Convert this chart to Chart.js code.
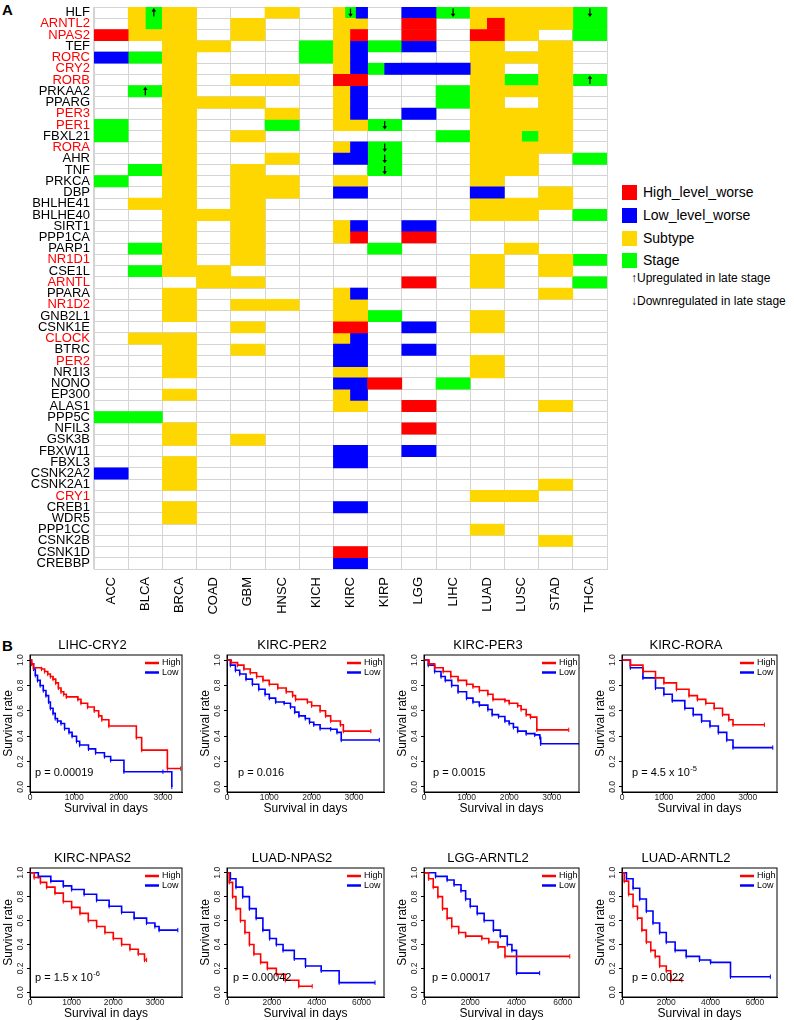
<!DOCTYPE html>
<html>
<head>
<meta charset="utf-8">
<script src="https://cdn.jsdelivr.net/npm/chart.js@4.4.1/dist/chart.umd.min.js"></script>
<style>
  body { margin: 0; background: #fff; font-family: "Liberation Sans", Arial, sans-serif; }
  #page { position: relative; width: 794px; height: 1020px; overflow: hidden; }
  canvas { position: absolute; }
  .tag { position: absolute; left: 2px; font-weight: bold; font-size: 15px; }
  .lg { position: absolute; left: 622px; font-size: 14px; line-height: 15px; white-space: nowrap; }
  .lg span { display: inline-block; width: 15px; height: 15px; vertical-align: top; margin-right: 6px; }
  .ar { position: absolute; left: 631px; font-size: 12px; white-space: nowrap; }
</style>
</head>
<body>
<div id="page">
  <div class="tag" style="top:1px">A</div>
  <div class="tag" style="top:637px">B</div>

  <canvas id="heat" width="610" height="620" style="left:0;top:0"></canvas>

  <div class="lg" style="top:185px"><span style="background:#FF0000"></span>High_level_worse</div>
  <div class="lg" style="top:208px"><span style="background:#0000FF"></span>Low_level_worse</div>
  <div class="lg" style="top:231px"><span style="background:#FFD700"></span>Subtype</div>
  <div class="lg" style="top:253px"><span style="background:#00FF00"></span>Stage</div>
  <div class="ar" style="top:271px">↑Upregulated in late stage</div>
  <div class="ar" style="top:294px">↓Downregulated in late stage</div>

  <canvas id="km1" width="187" height="178" style="left:0;top:638px"></canvas>
  <canvas id="km2" width="192" height="178" style="left:197px;top:638px"></canvas>
  <canvas id="km3" width="190" height="178" style="left:394px;top:638px"></canvas>
  <canvas id="km4" width="190" height="178" style="left:592px;top:638px"></canvas>
  <canvas id="km5" width="187" height="170" style="left:0;top:851px"></canvas>
  <canvas id="km6" width="192" height="170" style="left:197px;top:851px"></canvas>
  <canvas id="km7" width="190" height="170" style="left:394px;top:851px"></canvas>
  <canvas id="km8" width="190" height="170" style="left:592px;top:851px"></canvas>
</div>

<script>
// ---- panel A: genes x cancers ----
const genes = ['HLF','ARNTL2','NPAS2','TEF','RORC','CRY2','RORB','PRKAA2','PPARG','PER3','PER1','FBXL21','RORA','AHR','TNF',
  'PRKCA','DBP','BHLHE41','BHLHE40','SIRT1','PPP1CA','PARP1','NR1D1','CSE1L','ARNTL','PPARA','NR1D2','GNB2L1','CSNK1E',
  'CLOCK','BTRC','PER2','NR1I3','NONO','EP300','ALAS1','PPP5C','NFIL3','GSK3B','FBXW11','FBXL3','CSNK2A2','CSNK2A1',
  'CRY1','CREB1','WDR5','PPP1CC','CSNK2B','CSNK1D','CREBBP'];
const redGenes = ['ARNTL2','NPAS2','RORC','CRY2','RORB','PER3','PER1','RORA','NR1D1','ARNTL','NR1D2','CLOCK','PER2','CRY1'];
const cancers = ['ACC','BLCA','BRCA','COAD','GBM','HNSC','KICH','KIRC','KIRP','LGG','LIHC','LUAD','LUSC','STAD','THCA'];

// cell codes, one letter per equal slice of the cell:
// R high_level_worse, B low_level_worse, Y subtype, G stage, U stage + up arrow, D stage + down arrow
const ACC  = {NPAS2:'R', RORC:'B', PER1:'G', FBXL21:'G', PRKCA:'G', PPP5C:'G', CSNK2A2:'B'};
const BLCA = {HLF:'YU', ARNTL2:'YG', NPAS2:'Y', RORC:'G', PRKAA2:'U', TNF:'G', BHLHE41:'Y', PARP1:'G', CSE1L:'G', CLOCK:'Y', PPP5C:'G'};
const BRCA = {HLF:'Y', ARNTL2:'Y', NPAS2:'Y', TEF:'Y', RORC:'Y', CRY2:'Y', RORB:'Y', PRKAA2:'Y', PPARG:'Y', PER3:'Y', PER1:'Y',
  FBXL21:'Y', RORA:'Y', AHR:'Y', TNF:'Y', PRKCA:'Y', DBP:'Y', BHLHE41:'Y', BHLHE40:'Y', SIRT1:'Y', PPP1CA:'Y', PARP1:'Y',
  NR1D1:'Y', CSE1L:'Y', PPARA:'Y', NR1D2:'Y', GNB2L1:'Y', CLOCK:'Y', BTRC:'Y', PER2:'Y', NR1I3:'Y', EP300:'Y', NFIL3:'Y',
  GSK3B:'Y', FBXL3:'Y', CSNK2A2:'Y', CSNK2A1:'Y', CREB1:'Y', WDR5:'Y'};
const COAD = {TEF:'Y', PPARG:'Y', BHLHE40:'Y', CSE1L:'Y', ARNTL:'Y'};
const GBM  = {ARNTL2:'Y', NPAS2:'Y', RORB:'Y', PPARG:'Y', FBXL21:'Y', TNF:'Y', PRKCA:'Y', DBP:'Y', BHLHE41:'Y', BHLHE40:'Y',
  SIRT1:'Y', PPP1CA:'Y', PARP1:'Y', NR1D1:'Y', ARNTL:'Y', NR1D2:'Y', CSNK1E:'Y', BTRC:'Y', GSK3B:'Y'};
const HNSC = {HLF:'Y', RORB:'Y', PER3:'Y', PER1:'G', AHR:'Y', PRKCA:'Y', DBP:'Y', NR1D2:'Y'};
const KICH = {TEF:'G', RORC:'G'};
const KIRC = {HLF:'YDB', ARNTL2:'Y', NPAS2:'YR', TEF:'YB', RORC:'YB', CRY2:'YB', RORB:'R', PRKAA2:'YB', PPARG:'YB', PER3:'YB',
  PER1:'Y', RORA:'YB', AHR:'B', PRKCA:'Y', DBP:'B', SIRT1:'YB', PPP1CA:'YR', PPARA:'YB', NR1D2:'Y', GNB2L1:'Y', CSNK1E:'R',
  CLOCK:'YB', BTRC:'B', PER2:'B', NR1I3:'Y', NONO:'B', EP300:'YB', ALAS1:'Y', FBXW11:'B', FBXL3:'B', CREB1:'B', CSNK1D:'R', CREBBP:'B'};
const KIRP = {TEF:'G', CRY2:'GB', PER1:'D', RORA:'D', AHR:'D', TNF:'D', PARP1:'G', GNB2L1:'G', NONO:'R'};
const LGG  = {HLF:'B', ARNTL2:'R', NPAS2:'R', TEF:'B', CRY2:'B', PER3:'B', SIRT1:'B', PPP1CA:'R', ARNTL:'R', CSNK1E:'B', BTRC:'B',
  ALAS1:'R', NFIL3:'R', FBXW11:'B'};
const LIHC = {HLF:'D', CRY2:'B', PRKAA2:'G', PPARG:'G', FBXL21:'G', NONO:'G'};
const LUAD = {HLF:'Y', ARNTL2:'YR', NPAS2:'R', TEF:'Y', RORC:'Y', CRY2:'Y', RORB:'Y', PRKAA2:'Y', PPARG:'Y', PER3:'Y', PER1:'Y',
  FBXL21:'Y', RORA:'Y', AHR:'Y', TNF:'Y', PRKCA:'Y', DBP:'B', BHLHE41:'Y', BHLHE40:'Y', NR1D1:'Y', CSE1L:'Y', ARNTL:'Y',
  GNB2L1:'Y', CSNK1E:'Y', PER2:'Y', NR1I3:'Y', CRY1:'Y', PPP1CC:'Y'};
const LUSC = {HLF:'Y', ARNTL2:'Y', NPAS2:'Y', RORC:'Y', RORB:'G', PRKAA2:'Y', PER3:'Y', PER1:'Y', FBXL21:'YG', RORA:'Y', AHR:'Y',
  TNF:'Y', BHLHE41:'Y', BHLHE40:'Y', PARP1:'Y', CRY1:'Y'};
const STAD = {HLF:'Y', ARNTL2:'Y', TEF:'Y', RORC:'Y', CRY2:'Y', RORB:'Y', PRKAA2:'Y', PPARG:'Y', PER3:'Y', PER1:'Y', FBXL21:'Y',
  RORA:'Y', DBP:'Y', BHLHE41:'Y', NR1D1:'Y', CSE1L:'Y', PPARA:'Y', ALAS1:'Y', CSNK2A1:'Y', CSNK2B:'Y'};
const THCA = {HLF:'D', ARNTL2:'G', NPAS2:'G', RORB:'U', AHR:'G', BHLHE40:'G', NR1D1:'G', ARNTL:'G'};
const columns = [ACC, BLCA, BRCA, COAD, GBM, HNSC, KICH, KIRC, KIRP, LGG, LIHC, LUAD, LUSC, STAD, THCA];

// ---- panel B: Kaplan-Meier curves, [days, survival] ----
const lihcCry2High = [[0,1],[40,0.97],[80,0.94],[260,0.93],[330,0.91],[400,0.89],[460,0.87],[520,0.85],[580,0.82],[640,0.78],
  [700,0.75],[760,0.73],[820,0.71],[1080,0.69],[1150,0.66],[1300,0.63],[1450,0.6],[1550,0.56],[1620,0.53],[1780,0.48],
  [2400,0.39],[2520,0.29],[3100,0.145],[3400,0.145]];
const lihcCry2Low = [[0,1],[30,0.97],[80,0.93],[120,0.88],[170,0.84],[230,0.8],[300,0.76],[360,0.72],[420,0.67],[460,0.62],
  [520,0.58],[570,0.54],[620,0.52],[700,0.5],[780,0.46],[880,0.43],[950,0.4],[1050,0.36],[1120,0.33],[1320,0.3],[1480,0.27],
  [1680,0.24],[1820,0.21],[2120,0.12],[3000,0.12],[3200,0]];
const kircPer2High = [[0,1],[100,0.98],[250,0.96],[400,0.93],[550,0.9],[700,0.87],[850,0.84],[1000,0.81],[1200,0.78],[1400,0.75],
  [1550,0.72],[1620,0.69],[1900,0.67],[2000,0.64],[2200,0.6],[2330,0.56],[2450,0.52],[2680,0.49],[2750,0.44],[3400,0.44]];
const kircPer2Low = [[0,1],[80,0.96],[200,0.92],[300,0.89],[450,0.85],[600,0.81],[750,0.77],[900,0.73],[1000,0.7],[1150,0.67],
  [1350,0.66],[1500,0.63],[1600,0.59],[1700,0.56],[1850,0.54],[1950,0.51],[2050,0.49],[2200,0.46],[2450,0.455],[2600,0.43],
  [2700,0.37],[3600,0.37]];
const kircPer3High = [[0,1],[120,0.97],[250,0.94],[450,0.91],[630,0.87],[800,0.84],[1000,0.81],[1150,0.79],[1300,0.76],
  [1500,0.73],[1620,0.69],[1900,0.68],[2000,0.66],[2200,0.64],[2280,0.61],[2400,0.57],[2500,0.55],[2650,0.45],[3400,0.45]];
const kircPer3Low = [[0,1],[100,0.96],[250,0.91],[400,0.87],[500,0.84],[650,0.8],[800,0.75],[1000,0.7],[1150,0.67],[1300,0.645],
  [1500,0.61],[1600,0.57],[1750,0.555],[1900,0.52],[2000,0.5],[2100,0.47],[2200,0.44],[2400,0.42],[2600,0.41],[2720,0.39],
  [2740,0.34],[3650,0.34]];
const kircRoraHigh = [[0,1],[200,0.96],[500,0.91],[800,0.86],[1000,0.82],[1300,0.77],[1600,0.72],[1800,0.69],[2000,0.66],
  [2200,0.62],[2400,0.57],[2550,0.53],[2650,0.49],[3400,0.49]];
const kircRoraLow = [[0,1],[200,0.94],[500,0.86],[800,0.78],[1000,0.73],[1200,0.68],[1500,0.62],[1700,0.57],[1900,0.52],
  [2100,0.48],[2300,0.43],[2500,0.37],[2650,0.31],[3600,0.31]];
const kircNpas2High = [[0,1],[100,0.96],[250,0.92],[400,0.88],[600,0.83],[800,0.76],[1000,0.71],[1200,0.66],[1400,0.6],
  [1600,0.55],[1800,0.5],[2000,0.45],[2200,0.4],[2400,0.36],[2600,0.32],[2750,0.27],[2800,0.27]];
const kircNpas2Low = [[0,1],[200,0.97],[500,0.93],[800,0.89],[1000,0.86],[1300,0.82],[1600,0.77],[1900,0.72],[2200,0.67],
  [2500,0.62],[2800,0.58],[3000,0.55],[3100,0.52],[3550,0.52]];
const luadNpas2High = [[0,1],[100,0.92],[250,0.8],[400,0.7],[600,0.6],[800,0.5],[1000,0.4],[1200,0.32],[1500,0.25],[1800,0.2],
  [2200,0.15],[2600,0.1],[3200,0.05],[3800,0.05]];
const luadNpas2Low = [[0,1],[150,0.95],[400,0.88],[700,0.8],[1000,0.7],[1300,0.62],[1600,0.52],[1900,0.45],[2200,0.4],
  [2500,0.35],[3000,0.28],[3500,0.22],[4200,0.18],[5000,0.08],[6600,0.08]];
const lggArntl2High = [[0,1],[200,0.95],[400,0.88],[600,0.8],[800,0.7],[1000,0.62],[1200,0.55],[1500,0.5],[1800,0.47],
  [2500,0.45],[2800,0.42],[3200,0.38],[3500,0.3],[6300,0.3]];
const lggArntl2Low = [[0,1],[500,0.97],[1000,0.94],[1300,0.9],[1600,0.85],[1800,0.78],[2000,0.72],[2300,0.66],[2600,0.6],
  [3000,0.52],[3300,0.47],[3600,0.4],[3800,0.35],[4000,0.16],[5000,0.16]];
const luadArntl2High = [[0,1],[100,0.93],[300,0.82],[500,0.72],[700,0.62],[900,0.52],[1100,0.42],[1300,0.35],[1500,0.3],
  [1700,0.22],[2000,0.18],[2200,0.1],[2700,0.1]];
const luadArntl2Low = [[0,1],[200,0.95],[500,0.87],[800,0.78],[1100,0.68],[1400,0.58],[1700,0.5],[2000,0.42],[2400,0.35],
  [2900,0.3],[3500,0.27],[4000,0.25],[4900,0.13],[6700,0.13]];

const survTicks = [0, 0.2, 0.4, 0.6, 0.8, 1.0];
const dayTicksShort = [0, 1000, 2000, 3000];
const dayTicksLong = [0, 2000, 4000, 6000];

Chart.defaults.font.family = '"Liberation Sans", Arial, sans-serif';
Chart.defaults.color = '#000';

// ---------- heatmap ----------
const fills = { R: '#FF0000', B: '#0000FF', Y: '#FFD700', G: '#00FF00' };
const groups = { R: [], B: [], Y: [], G: [] };
const arrows = [];
columns.forEach((col, ci) => {
  Object.entries(col).forEach(([gene, code]) => {
    const n = code.length;
    [...code].forEach((c, k) => {
      const x0 = ci + k / n, x1 = ci + (k + 1) / n;
      const key = (c === 'U' || c === 'D') ? 'G' : c;
      groups[key].push({ x: [x0, x1], y: gene });
      if (c === 'U' || c === 'D') arrows.push({ x: (x0 + x1) / 2, y: gene, up: c === 'U' });
    });
  });
});

const arrowPlugin = {
  id: 'arrows',
  afterDraw(chart) {
    const { ctx, scales: { x, y } } = chart;
    ctx.save();
    ctx.strokeStyle = '#000';
    ctx.fillStyle = '#000';
    ctx.lineWidth = 1.2;
    arrows.forEach(a => {
      const px = x.getPixelForValue(a.x);
      const py = y.getPixelForValue(genes.indexOf(a.y));
      const d = a.up ? -1 : 1;
      ctx.beginPath();
      ctx.moveTo(px, py - 4 * d);
      ctx.lineTo(px, py + 2.5 * d);
      ctx.stroke();
      ctx.beginPath();
      ctx.moveTo(px, py + 4.5 * d);
      ctx.lineTo(px - 2.3, py + 1.2 * d);
      ctx.lineTo(px + 2.3, py + 1.2 * d);
      ctx.closePath();
      ctx.fill();
    });
    ctx.restore();
  }
};

// keep the plot box exactly where padding puts it
const noPad = s => { s.paddingTop = 0; s.paddingBottom = 0; s.paddingLeft = 0; s.paddingRight = 0; };

const gridGrey = '#d4d4d4';
new Chart(document.getElementById('heat'), {
  type: 'bar',
  data: {
    labels: genes,
    datasets: ['R', 'B', 'Y', 'G'].map(k => ({
      data: groups[k],
      backgroundColor: fills[k],
      borderWidth: 0,
      barPercentage: 1,
      categoryPercentage: 1,
      grouped: false
    }))
  },
  options: {
    indexAxis: 'y',
    responsive: false,
    animation: false,
    layout: { padding: { top: 7, right: 3, left: 0, bottom: 0 } },
    plugins: { legend: { display: false }, tooltip: { enabled: false } },
    scales: {
      x: {
        type: 'linear', min: 0, max: 15, z: 1,
        afterBuildTicks: s => { s.ticks = cancers.map((c, i) => ({ value: i + 0.5 })); },
        afterFit: s => { s.height = 51; noPad(s); },
        ticks: { autoSkip: false, minRotation: 90, maxRotation: 90, padding: 8, font: { size: 13 },
          callback: (v, i) => cancers[i] },
        grid: { offset: true, color: gridGrey, drawTicks: false },
        border: { color: gridGrey }
      },
      y: {
        type: 'category', z: 1,
        afterFit: s => { s.width = 94; noPad(s); },
        ticks: { autoSkip: false, padding: 4, font: { size: 13 },
          color: c => redGenes.includes(genes[c.index]) ? '#FF0000' : '#000' },
        grid: { offset: true, color: gridGrey, drawTicks: false },
        border: { color: gridGrey }
      }
    }
  },
  plugins: [arrowPlugin]
});

// ---------- survival plots ----------
const kmPlugin = {
  id: 'kmText',
  afterDraw(chart, args, opts) {
    const { ctx, chartArea: a } = chart;
    ctx.save();
    ctx.strokeStyle = '#000';
    ctx.lineWidth = 1;
    ctx.strokeRect(a.left, a.top, a.right - a.left, a.bottom - a.top);
    ctx.lineWidth = 2.5;
    ctx.font = '9px "Liberation Sans", Arial';
    ctx.textBaseline = 'middle';
    [['High', '#FF0000'], ['Low', '#0000FF']].forEach(([t, c], k) => {
      const yy = a.top + 8 + k * 9.5;
      ctx.strokeStyle = c;
      ctx.beginPath();
      ctx.moveTo(a.right - 37, yy);
      ctx.lineTo(a.right - 23, yy);
      ctx.stroke();
      ctx.fillStyle = '#000';
      ctx.fillText(t, a.right - 20, yy);
    });
    ctx.textBaseline = 'alphabetic';
    ctx.font = '11px "Liberation Sans", Arial';
    const px = a.left + opts.dx, py = a.bottom - 16;
    ctx.fillText(opts.p, px, py);
    if (opts.exp) {
      const w = ctx.measureText(opts.p).width;
      ctx.font = '7.5px "Liberation Sans", Arial';
      ctx.fillText(opts.exp, px + w + 0.5, py - 5);
    }
    ctx.restore();
  }
};

function curve(points, color) {
  return {
    data: points,
    borderColor: color,
    borderWidth: 1.6,
    stepped: true,
    fill: false,
    pointStyle: 'line',
    pointRotation: 90,
    pointRadius: 2.2,
    pointBorderWidth: 1,
    pointBorderColor: color
  };
}

function kmChart(id, title, high, low, xMax, dayTicks, p, exp, dx) {
  new Chart(document.getElementById(id), {
    type: 'line',
    data: { datasets: [curve(high, '#FF0000'), curve(low, '#0000FF')] },
    options: {
      responsive: false,
      animation: false,
      layout: { padding: { top: 0, right: 2, left: 0, bottom: 0 } },
      plugins: {
        legend: { display: false },
        tooltip: { enabled: false },
        title: { display: true, text: title, font: { size: 13, weight: 'normal' }, color: '#000',
          padding: { top: 0, bottom: 1.4 } },
        kmText: { p: p, exp: exp, dx: dx }
      },
      scales: {
        x: {
          type: 'linear', min: 0, max: xMax,
          afterBuildTicks: s => { s.ticks = dayTicks.map(v => ({ value: v })); },
          afterFit: s => { s.height = 24; noPad(s); },
          ticks: { padding: -2, font: { size: 8.5 }, color: '#222', maxRotation: 0, callback: v => String(v) },
          grid: { drawOnChartArea: false, tickLength: 3, color: '#000' },
          border: { color: '#000' },
          title: { display: true, text: 'Survival in days', font: { size: 12 }, padding: 0 }
        },
        y: {
          type: 'linear', min: -0.04, max: 1.04,
          afterBuildTicks: s => { s.ticks = survTicks.map(v => ({ value: v })); },
          afterFit: s => { s.width = 30; noPad(s); },
          ticks: { padding: 0, font: { size: 8.5 }, color: '#222', minRotation: 90, maxRotation: 90,
            crossAlign: 'center', callback: v => v.toFixed(1) },
          grid: { drawOnChartArea: false, tickLength: 3, color: '#000' },
          border: { color: '#000' },
          title: { display: true, text: 'Survival rate', font: { size: 12 }, padding: { top: 1, bottom: 0 } }
        }
      }
    },
    plugins: [kmPlugin]
  });
}

kmChart('km1', 'LIHC-CRY2', lihcCry2High, lihcCry2Low, 3430, dayTicksShort, 'p = 0.00019', null, 5);
kmChart('km2', 'KIRC-PER2', kircPer2High, kircPer2Low, 3710, dayTicksShort, 'p = 0.016', null, 11);
kmChart('km3', 'KIRC-PER3', kircPer3High, kircPer3Low, 3640, dayTicksShort, 'p = 0.0015', null, 9);
kmChart('km4', 'KIRC-RORA', kircRoraHigh, kircRoraLow, 3700, dayTicksShort, 'p = 4.5 x 10', '-5', 10);
kmChart('km5', 'KIRC-NPAS2', kircNpas2High, kircNpas2Low, 3650, dayTicksShort, 'p = 1.5 x 10', '-6', 5);
kmChart('km6', 'LUAD-NPAS2', luadNpas2High, luadNpas2Low, 7000, dayTicksLong, 'p = 0.00042', null, 6);
kmChart('km7', 'LGG-ARNTL2', lggArntl2High, lggArntl2Low, 6700, dayTicksLong, 'p = 0.00017', null, 8);
kmChart('km8', 'LUAD-ARNTL2', luadArntl2High, luadArntl2Low, 7000, dayTicksLong, 'p = 0.0022', null, 10);
</script>
</body>
</html>
